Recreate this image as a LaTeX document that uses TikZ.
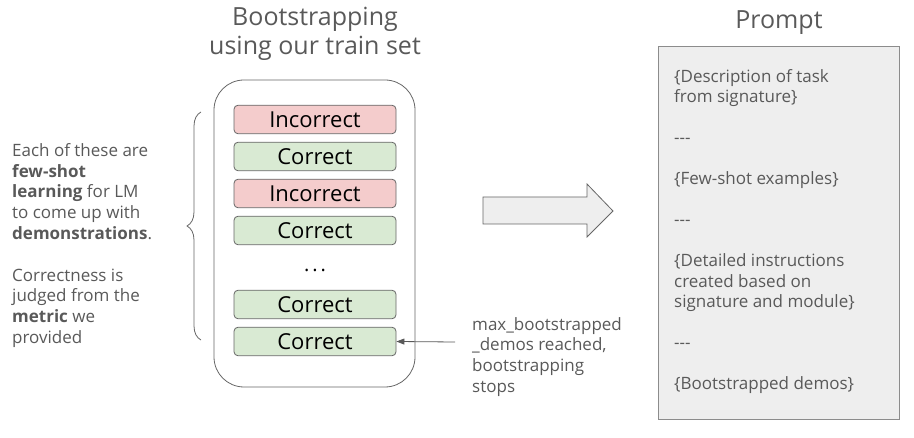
\documentclass[tikz,border=0pt]{standalone}
\usepackage{fontspec}
\setmainfont{Open Sans}
\usetikzlibrary{decorations.pathreplacing,arrows.meta}
\definecolor{txt}{HTML}{595959}
\definecolor{pinkf}{HTML}{F4CCCC}
\definecolor{greenf}{HTML}{D9EAD3}
\definecolor{grayf}{HTML}{EEEEEE}
\definecolor{edge}{HTML}{666666}
\tikzset{
  res/.style={draw=edge, line width=0.8pt, rounded corners=4pt, minimum width=162pt, minimum height=28.5pt, inner sep=0pt, font=\fontsize{22}{26}\selectfont, text=black},
  bad/.style={res, fill=pinkf},
  good/.style={res, fill=greenf},
  plain/.style={text=txt, font=\fontsize{17}{20.8}\selectfont, align=left, inner sep=0pt},
  ptext/.style={text=txt, font=\fontsize{17}{20.5}\selectfont, align=left, inner sep=0pt},
  title/.style={text=txt, font=\fontsize{25}{29.5}\selectfont, align=center, inner sep=0pt},
}
\begin{document}
\begin{tikzpicture}[x=1pt,y=-1pt]
\useasboundingbox (0,0) rectangle (914,438);
% titles
\node[title] (t1) at (315,34) {Bootstrapping\\using our train set};
\node[title] (t2) at (779,23) {Prompt};
% outer container
\node[draw=edge, line width=0.8pt, rounded corners=30pt, minimum width=201pt, minimum height=307pt, inner sep=0pt] (cont) at (314.5,233.5) {};
% results
\node[bad]  (r1) at (315,119.5) {Incorrect};
\node[good] (r2) at (315,156.5) {Correct};
\node[bad]  (r3) at (315,193.5) {Incorrect};
\node[good] (r4) at (315,230.5) {Correct};
\node[text=black, font=\fontsize{20}{24}\selectfont, inner sep=0pt] (dots) at (315,270) {.\hspace{3pt}.\hspace{3pt}.};
\node[good] (r5) at (315,304.5) {Correct};
\node[good] (r6) at (315,341.5) {Correct};
% brace
\coordinate (bt) at (201,112);
\coordinate (bb) at (201,340);
\draw[edge, line width=0.8pt, decorate, decoration={brace, amplitude=14pt}] (bb) -- (bt);
% left text
\node[plain, anchor=north west] (lt) at (12,143) {Each of these are\\\textbf{few-shot}\\\textbf{learning} for LM\\to come up with\\\textbf{demonstrations}.\\[20.8pt]Correctness is\\judged from the\\\textbf{metric} we\\provided};
% big arrow
\draw[edge, line width=0.8pt, fill=grayf] (483,197) -- (587,197) -- (587,184) -- (613,211) -- (587,237) -- (587,224) -- (483,224) -- cycle;
% annotation
\node[plain, anchor=north west] (ann) at (472,317) {max\_bootstrapped\\\_demos reached,\\bootstrapping\\stops};
\coordinate (as) at (455,342);
\draw[txt, line width=0.8pt, -{Triangle[length=8pt,width=6pt]}] (as) -- (r6.east);
% prompt box
\node[draw=gray!90, line width=0.8pt, fill=grayf, minimum width=241pt, minimum height=373pt, inner sep=0pt] (pb) at (778.5,232.5) {};
\node[ptext, anchor=north west] (pt) at (674,69) {\{Description of task\\from signature\}\\[20.5pt]{-}{-}{-}\\[20.5pt]\{Few-shot examples\}\\[20.5pt]{-}{-}{-}\\[20.5pt]\{Detailed instructions\\created based on\\signature and module\}\\[20.5pt]{-}{-}{-}\\[20.5pt]\{Bootstrapped demos\}};
\end{tikzpicture}
\end{document}
